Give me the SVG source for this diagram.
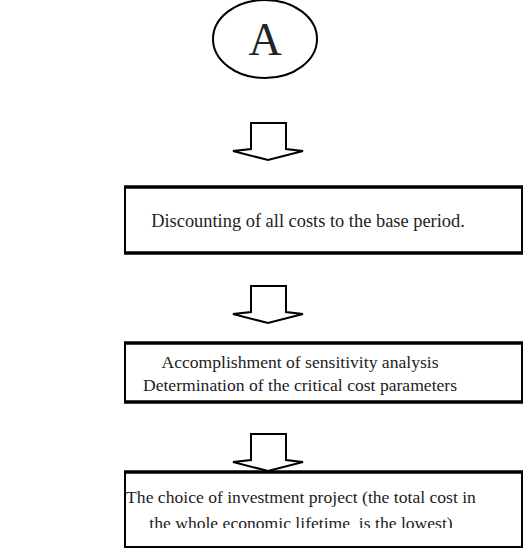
<svg xmlns="http://www.w3.org/2000/svg" width="525" height="550" viewBox="0 0 525 550">
<style>
text{font-family:"Liberation Serif","Times New Roman",serif;fill:#222;white-space:pre;}
.t{font-size:17.6px;text-anchor:middle;}
.box{fill:#fff;stroke:#000;stroke-width:2;}
.edge{stroke:#000;stroke-width:3.5;fill:none;}
.arr{fill:#fff;stroke:#000;stroke-width:2;stroke-linejoin:miter;}
</style>
<defs>
<clipPath id="clip3"><rect x="0" y="0" width="525" height="528"/></clipPath>
</defs>
<rect width="525" height="550" fill="#fff"/>
<g id="nodeA">
<ellipse cx="265" cy="39" rx="52" ry="39" fill="#fff" stroke="#000" stroke-width="2"/>
<text x="265" y="55" style="font-size:46px;text-anchor:middle">A</text>
</g>
<g id="connectors">
<polygon class="arr" points="251,123 286,123 286,149 303,151 268,160 233,151 251,149"/>
<polygon class="arr" points="251,286 286,286 286,312 303,314 268,323 233,314 251,312"/>
<polygon class="arr" points="251,434 286,434 286,460 303,462 268,471 233,462 251,460"/>
</g>
<g id="box1">
<rect class="box" x="125" y="187" width="397" height="66"/>
<line class="edge" x1="124" y1="187" x2="523" y2="187"/>
<line class="edge" x1="124" y1="253" x2="523" y2="253"/>
<text class="t" x="308" y="227" style="font-size:18.4px">Discounting of all costs to the base period.</text>
</g>
<g id="box2">
<rect class="box" x="125" y="343" width="397" height="59"/>
<line class="edge" x1="124" y1="343" x2="523" y2="343"/>
<line class="edge" x1="124" y1="402" x2="523" y2="402"/>
<text class="t" x="300" y="368">Accomplishment of sensitivity analysis</text>
<text class="t" x="300" y="391">Determination of the critical cost parameters</text>
</g>
<g id="box3">
<rect class="box" x="125" y="472" width="397" height="75"/>
<line class="edge" x1="124" y1="472" x2="523" y2="472"/>
<text class="t" x="301" y="503">The choice of investment project (the total cost in</text>
<text class="t" x="301" y="529" clip-path="url(#clip3)">the whole economic lifetime  is the lowest)</text>
</g>
</svg>
